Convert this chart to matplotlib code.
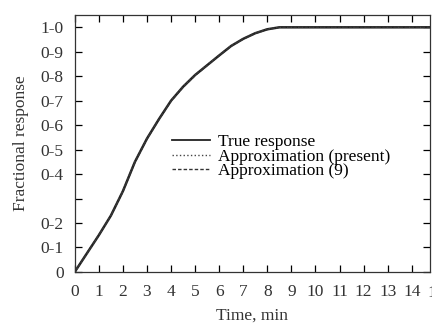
import numpy as np
import matplotlib.pyplot as plt

# time, min
t = [0, 0.5, 1.0, 1.5, 2.0, 2.5, 3.0, 3.5, 4.0, 4.5, 5.0, 5.5, 6.0, 6.5,
     7.0, 7.5, 8.0, 8.5, 9.0, 10, 11, 12, 13, 14, 14.75]
true_resp = [0, 0.075, 0.15, 0.23, 0.33, 0.45, 0.545, 0.625, 0.70, 0.757,
             0.805, 0.845, 0.885, 0.924, 0.953, 0.976, 0.992, 1.0, 1.0, 1.0,
             1.0, 1.0, 1.0, 1.0, 1.0]
approx_present = [0, 0.074, 0.149, 0.231, 0.332, 0.452, 0.546, 0.626, 0.701,
                  0.758, 0.806, 0.846, 0.886, 0.925, 0.954, 0.977, 0.993, 1.0,
                  1.0, 1.0, 1.0, 1.0, 1.0, 1.0, 1.0]
approx_9 = [0, 0.076, 0.151, 0.229, 0.328, 0.448, 0.543, 0.623, 0.698, 0.755,
            0.803, 0.844, 0.884, 0.923, 0.952, 0.975, 0.991, 1.0, 1.0, 1.0,
            1.0, 1.0, 1.0, 1.0, 1.0]

xticks = list(range(15))
yticks = [0, 0.1, 0.2, 0.3, 0.4, 0.5, 0.6, 0.7, 0.8, 0.9, 1.0]
ylabels = ['0', '0-1', '0-2', '', '0-4', '0-5', '0-6', '0-7', '0-8', '0-9', '1-0']

plt.rcParams['font.family'] = ['Liberation Serif', 'DejaVu Serif']
txt = '#333333'

fig = plt.figure(figsize=(4.32, 3.28), dpi=100)
ax = fig.add_axes([0.173, 0.171, 0.822, 0.783])

ax.plot(t, true_resp, color='#222222', lw=1.8, linestyle='-', label='True response')
ax.plot(t, approx_present, color='#444444', lw=1.0, linestyle=':', label='Approximation (present)')
ax.plot(t, approx_9, color='#333333', lw=1.0, linestyle='--', dashes=(2.5, 1.5), label='Approximation (9)')

ax.set_xlim(0, 14.75)
ax.set_ylim(0, 1.05)
ax.set_xticks(xticks)
ax.set_yticks(yticks)
ax.set_yticklabels(ylabels)
# the last label is cut by the page edge in the original
ax.text(15, -0.052, '15', ha='center', va='top', fontsize=12.5, color=txt,
        transform=ax.transData, clip_on=False)
ax.tick_params(direction='in', top=True, right=True, labelsize=12.5,
               labelcolor=txt, length=5, width=0.9)
ax.tick_params(axis='x', pad=9)
ax.tick_params(axis='y', pad=8)
for s in ax.spines.values():
    s.set_linewidth(0.9)
    s.set_color('#333333')

ax.set_xlabel('Time, min', fontsize=12.5, color=txt, labelpad=5)
ax.set_ylabel('Fractional response', fontsize=12.5, color=txt, labelpad=8)

leg = ax.legend(loc='upper left', bbox_to_anchor=(0.254, 0.565), frameon=False,
                fontsize=12.5, handlelength=2.2, handletextpad=0.45,
                labelspacing=-0.08, borderaxespad=0)
leg.get_lines()[0].set_linewidth(1.3)

fig.savefig('out.png', dpi=100)
